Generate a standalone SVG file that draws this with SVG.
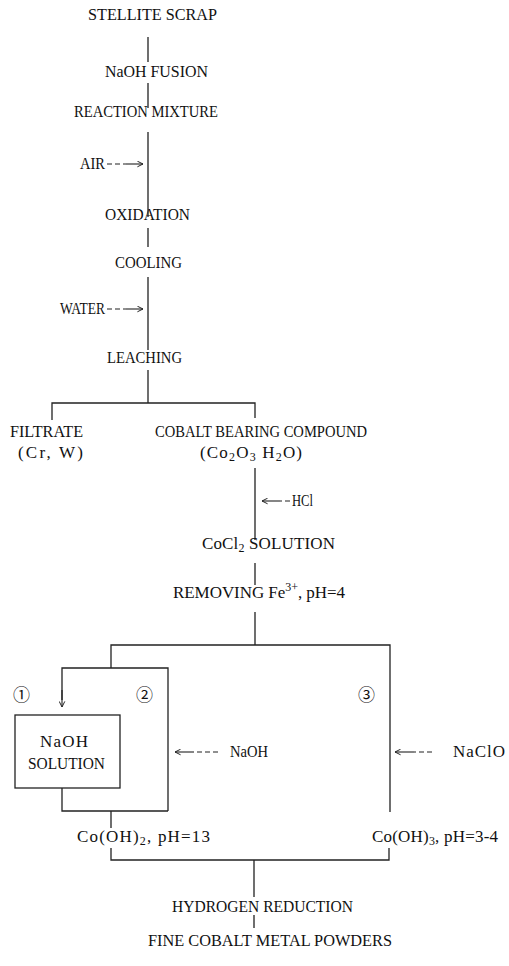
<svg xmlns="http://www.w3.org/2000/svg" width="509" height="966" viewBox="0 0 509 966">
<defs>
<style>
text{font-family:"Liberation Serif","DejaVu Serif",serif;font-size:17px;fill:#111}
.c{font-family:"Noto Sans CJK JP","DejaVu Sans",sans-serif;font-size:17px}
.ln{stroke:#222;stroke-width:1.3;fill:none}
.ar{stroke:#222;stroke-width:1.1;fill:none;marker-end:url(#ah)}
.da{stroke:#222;stroke-width:1.1;fill:none;stroke-dasharray:5 3}
</style>
<marker id="ah" viewBox="0 0 10 10" refX="9" refY="5" markerWidth="7" markerHeight="7" orient="auto" markerUnits="userSpaceOnUse">
<path d="M1,1 L9,5 L1,9" fill="none" stroke="#222" stroke-width="1.4"/>
</marker>
</defs>
<rect width="509" height="966" fill="#fff"/>

<g id="connectors">
<path class="ln" d="M148,37V62 M148,83V108 M148,132V217 M148,228V247 M148,277V350 M148,370V403"/>
<path class="ln" d="M52,420V403H255V418"/>
<path class="ln" d="M255,468V540 M255,563V585 M255,612V645"/>
<path class="ln" d="M111,668V645H390V812"/>
<path class="ln" d="M168,811V668H62V700"/>
<path class="ar" d="M62,690V707"/>
<path class="ln" d="M62,788V811H168 M111,811V828"/>
<path class="ln" d="M111,848V860H389V848"/>
<path class="ln" d="M254,860V897 M254,915V928"/>
<path class="da" d="M107,164H126"/><path class="ar" d="M126,164H143"/>
<path class="da" d="M107,309H126"/><path class="ar" d="M126,309H143"/>
<path class="da" d="M290,501H280"/><path class="ar" d="M280,501H262"/>
<path class="da" d="M218,752H194"/><path class="ar" d="M194,752H175"/>
<path class="da" d="M432,752H414"/><path class="ar" d="M414,752H395"/>
</g>

<g id="n1"><text x="88" y="20" textLength="129" lengthAdjust="spacingAndGlyphs">STELLITE SCRAP</text></g>
<g id="n2"><text x="105" y="77" textLength="103" lengthAdjust="spacingAndGlyphs">NaOH FUSION</text></g>
<g id="n3"><text x="74" y="117" textLength="144" lengthAdjust="spacingAndGlyphs">REACTION MIXTURE</text></g>
<g id="air"><text x="80" y="169" textLength="25" lengthAdjust="spacingAndGlyphs">AIR</text></g>
<g id="n4"><text x="105" y="220" textLength="85" lengthAdjust="spacingAndGlyphs">OXIDATION</text></g>
<g id="n5"><text x="115" y="268" textLength="67" lengthAdjust="spacingAndGlyphs">COOLING</text></g>
<g id="water"><text x="60" y="314" textLength="45" lengthAdjust="spacingAndGlyphs">WATER</text></g>
<g id="n6"><text x="107" y="363" textLength="75" lengthAdjust="spacingAndGlyphs">LEACHING</text></g>
<g id="n7">
<text x="10" y="437" textLength="73" lengthAdjust="spacingAndGlyphs">FILTRATE</text>
<text x="18" y="458" textLength="65" lengthAdjust="spacing">(Cr, W)</text>
</g>
<g id="n8">
<text x="155" y="437" textLength="212" lengthAdjust="spacingAndGlyphs">COBALT BEARING COMPOUND</text>
<text x="200" y="458" textLength="102" lengthAdjust="spacing">(Co<tspan font-size="12" dy="3">2</tspan><tspan dy="-3">O</tspan><tspan font-size="12" dy="3">3</tspan><tspan dy="-3"> H</tspan><tspan font-size="12" dy="3">2</tspan><tspan dy="-3">O)</tspan></text>
</g>
<g id="hcl"><text x="292" y="506" textLength="21" lengthAdjust="spacingAndGlyphs">HCl</text></g>
<g id="n9"><text x="202" y="549" textLength="133" lengthAdjust="spacing">CoCl<tspan font-size="12" dy="3">2</tspan><tspan dy="-3"> SOLUTION</tspan></text></g>
<g id="n10"><text x="173" y="598" textLength="172" lengthAdjust="spacing">REMOVING Fe<tspan font-size="12" dy="-7">3+</tspan><tspan dy="7">, pH=4</tspan></text></g>
<g id="c1"><text class="c" x="13" y="701">①</text></g>
<g id="c2"><text class="c" x="136" y="701">②</text></g>
<g id="c3"><text class="c" x="358" y="701">③</text></g>
<g id="box">
<rect x="15" y="715" width="105" height="73" class="ln"/>
<text x="40" y="747" textLength="48" lengthAdjust="spacing">NaOH</text>
<text x="28" y="769" textLength="77" lengthAdjust="spacingAndGlyphs">SOLUTION</text>
</g>
<g id="naoh"><text x="230" y="757" textLength="38" lengthAdjust="spacingAndGlyphs">NaOH</text></g>
<g id="naclo"><text x="453" y="757" textLength="52" lengthAdjust="spacing">NaClO</text></g>
<g id="n11"><text x="77" y="842" textLength="133" lengthAdjust="spacing">Co(OH)<tspan font-size="12" dy="3">2</tspan><tspan dy="-3">, pH=13</tspan></text></g>
<g id="n12"><text x="372" y="842" textLength="126" lengthAdjust="spacing">Co(OH)<tspan font-size="12" dy="3">3</tspan><tspan dy="-3">, pH=3-4</tspan></text></g>
<g id="n13"><text x="172" y="912" textLength="181" lengthAdjust="spacingAndGlyphs">HYDROGEN REDUCTION</text></g>
<g id="n14"><text x="148" y="946" textLength="244" lengthAdjust="spacingAndGlyphs">FINE COBALT METAL POWDERS</text></g>
</svg>
